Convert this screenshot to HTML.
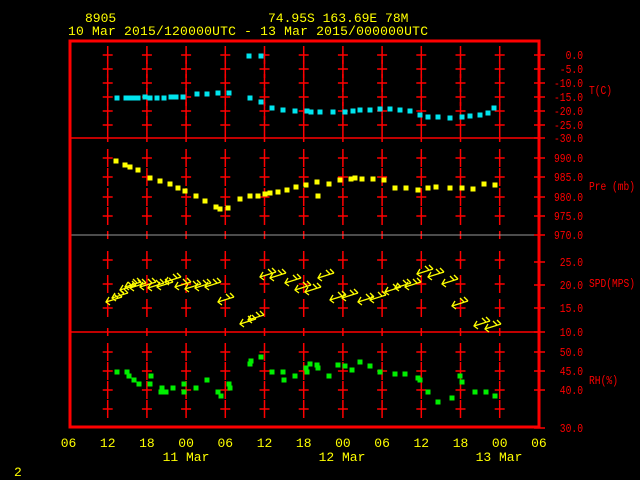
<!DOCTYPE html>
<html><head><meta charset="utf-8"><style>
html,body{margin:0;padding:0;background:#000;}
svg{display:block;}
text{font-family:"Liberation Mono",monospace;font-size:13px;}
.r{font-size:12px;}
</style></head><body>
<svg width="640" height="480" viewBox="0 0 640 480" xmlns="http://www.w3.org/2000/svg">
<rect width="640" height="480" fill="#000"/>
<g fill="#ffff00">
<text x="85" y="22">8905</text>
<text x="268" y="22">74.95S  163.69E   78M</text>
<text x="68" y="35" textLength="360">10 Mar 2015/120000UTC - 13 Mar 2015/000000UTC</text>
<text x="14" y="476">2</text>
</g>
<g id="crosses" stroke="#ff0000" stroke-width="1.5"></g>
<g stroke="#ff0000" stroke-width="1.5">
<line x1="70" y1="138" x2="540" y2="138"/>
<line x1="70" y1="332" x2="540" y2="332"/>
</g>
<line x1="70" y1="235" x2="540" y2="235" stroke="#999" stroke-width="1"/>
<rect x="70" y="41" width="469" height="386" fill="none" stroke="#ff0000" stroke-width="3"/>
<g id="rticks" stroke="#ff0000" stroke-width="1.5"></g>
<g id="rlabels" fill="#ff0000"></g>
<g fill="#ff0000">
<text class="r" x="589" y="94" textLength="23" lengthAdjust="spacingAndGlyphs">T(C)</text>
<text class="r" x="589" y="190" textLength="46" lengthAdjust="spacingAndGlyphs">Pre (mb)</text>
<text class="r" x="589" y="287" textLength="46" lengthAdjust="spacingAndGlyphs">SPD(MPS)</text>
<text class="r" x="589" y="384" textLength="29" lengthAdjust="spacingAndGlyphs">RH(%)</text>
</g>
<g id="xl" fill="#ffff00" text-anchor="middle"></g>
<g fill="#ffff00" text-anchor="middle">
<text x="186" y="461">11 Mar</text>
<text x="342" y="461">12 Mar</text>
<text x="499" y="461">13 Mar</text>
</g>
<g id="T" fill="#00e5ee"></g>
<g id="P" fill="#ffff00"></g>
<g id="R" fill="#00ee00"></g>
<g id="W" stroke="#ffff00" stroke-width="1.3" fill="none"></g>
</svg>
<script>
var NS="http://www.w3.org/2000/svg";
function el(p,t,a,tx){var e=document.createElementNS(NS,t);for(var k in a)e.setAttribute(k,a[k]);if(tx!==undefined)e.textContent=tx;document.getElementById(p).appendChild(e);}
var xs=[107.7,146.9,186.1,225.3,264.5,303.7,342.9,382.1,421.3,460.5,499.7];
var ys=[55,69,83,97,111,125,158,177,197,216,260,284,308,352,371,390,409];
xs.forEach(function(x){ys.forEach(function(y){
 el("crosses","line",{x1:x,y1:y-9,x2:x,y2:y+9});
 el("crosses","line",{x1:x-5,y1:y,x2:x+5,y2:y});});
 [138,235,332].forEach(function(y){el("crosses","line",{x1:x,y1:y-4,x2:x,y2:y+4});});
});
var rl=[[55,"0.0"],[69,"-5.0"],[83,"-10.0"],[97,"-15.0"],[111,"-20.0"],[125,"-25.0"],[138,"-30.0"],
[158,"990.0"],[177,"985.0"],[197,"980.0"],[216,"975.0"],[235,"970.0"],
[262,"25.0"],[285,"20.0"],[308,"15.0"],[332,"10.0"],[352,"50.0"],[371,"45.0"],[390,"40.0"],[428,"30.0"]];
rl.forEach(function(r){el("rticks","line",{x1:534,y1:r[0],x2:545,y2:r[0]});
 var w=5.8*r[1].length;
 el("rlabels","text",{x:583-w,y:r[0]+4,"class":"r",textLength:w,lengthAdjust:"spacingAndGlyphs"},r[1]);});
var xlab=["06","12","18","00","06","12","18","00","06","12","18","00","06"];
xlab.forEach(function(l,i){el("xl","text",{x:68.5+39.2*i,y:447},l);});
function pts(g,a,s){a.forEach(function(p){el(g,"rect",{x:p[0]-s/2,y:p[1]-s/2,width:s,height:s});});}
pts("T",[[117,98],[126,98],[130,98],[134,98],[138,98],[145,97],[150,98],[157,98],[164,98],[171,97],[176,97],[183,97],[197,94],[207,94],[218,93],[229,93],[249,56],[261,56],[250,98],[261,102],[272,108],[283,110],[295,111],[307,111],[311,112],[320,112],[333,112],[345,112],[353,111],[360,110],[370,110],[380,109],[390,109],[400,110],[410,111],[420,115],[428,117],[438,117],[450,118],[462,117],[470,116],[480,115],[488,113],[494,108]],5);
pts("P",[[116,161],[125,165],[130,167],[138,170],[150,178],[160,181],[170,184],[178,188],[185,191],[196,196],[205,201],[216,207],[220,209],[228,208],[240,199],[250,196],[258,196],[265,194],[270,193],[278,192],[287,190],[296,187],[306,185],[317,182],[318,196],[329,184],[340,180],[351,179],[355,178],[362,179],[373,179],[384,180],[395,188],[406,188],[418,190],[428,188],[436,187],[450,188],[462,188],[473,189],[484,184],[495,185]],5);
pts("R",[[117,372],[127,372],[129,376],[134,380],[139,384],[151,376],[150,384],[162,388],[161,392],[166,392],[173,388],[184,384],[184,392],[196,388],[207,380],[218,392],[221,396],[229,384],[230,388],[250,364],[251,361],[261,357],[272,372],[283,372],[284,380],[295,376],[306,368],[307,372],[310,364],[317,365],[318,368],[329,376],[338,365],[345,366],[352,370],[360,362],[370,366],[380,372],[395,374],[405,374],[418,378],[420,380],[428,392],[438,402],[452,398],[460,376],[462,382],[475,392],[486,392],[495,396]],5);
var W=[[106,302],[112,298],[120,290],[125,287],[130,288],[140,287],[148,288],[157,287],[165,282],[175,287],[185,289],[195,288],[205,287],[218,302],[240,324],[248,320],[260,277],[270,278],[285,283],[295,290],[305,292],[318,278],[330,300],[342,298],[358,302],[370,300],[385,292],[395,288],[405,287],[417,274],[428,277],[442,284],[452,306],[474,326],[485,329]];
W.forEach(function(p){var x=p[0],y=p[1];
 el("W","polyline",{points:(x+3)+","+(y-5)+" "+x+","+y+" "+(x+4)+","+(y+3)});
 el("W","line",{x1:x,y1:y,x2:x+16,y2:y-5});
 el("W","line",{x1:x+16,y1:y-5,x2:x+12,y2:y-9});
 el("W","line",{x1:x+12,y1:y-4,x2:x+8,y2:y-8});
});
</script>
</body></html>
